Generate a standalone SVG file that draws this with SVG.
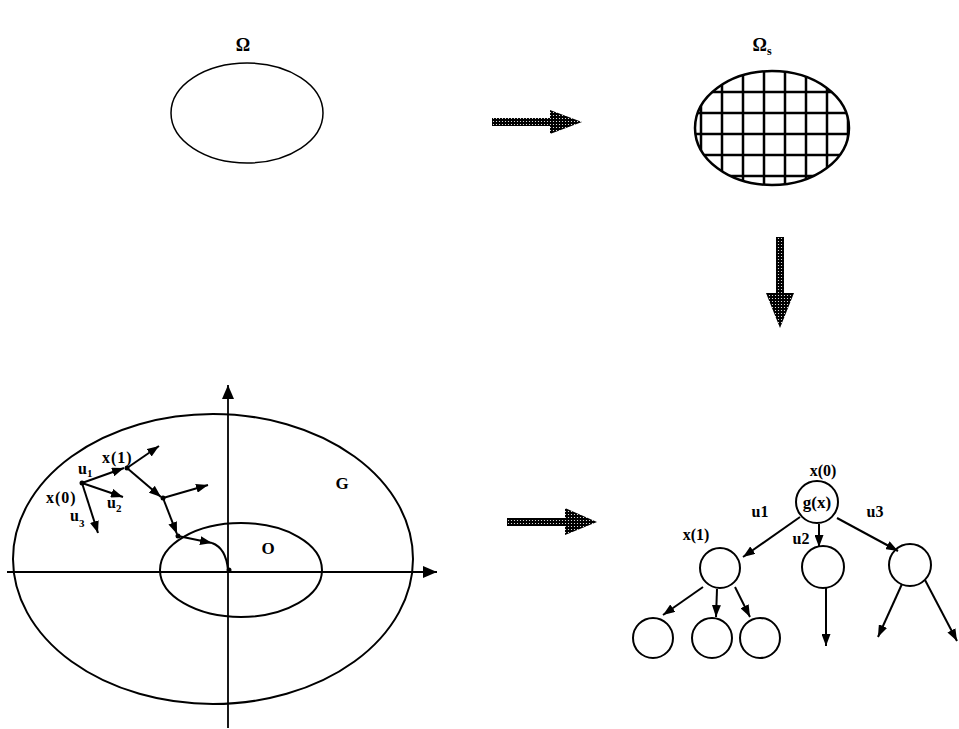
<svg xmlns="http://www.w3.org/2000/svg" width="959" height="729" viewBox="0 0 959 729">
<style>
.t{font-family:"Liberation Serif",serif;font-weight:bold;fill:#000}
.ln{stroke:#000;fill:none;stroke-width:2}
.ax{stroke:#000;fill:none;stroke-width:1.8}
.grid{stroke:#000;stroke-width:2.5}
.big{fill:url(#stip);stroke:none}
</style>
<defs>
<pattern id="stip" width="3" height="3" patternUnits="userSpaceOnUse">
<rect width="3" height="3" fill="#000"/>
<circle cx="1.5" cy="1.5" r="0.6" fill="#fff"/>
</pattern>
<marker id="ah" viewBox="0 0 12 9" refX="12" refY="4.5" markerWidth="12" markerHeight="9" markerUnits="userSpaceOnUse" orient="auto">
<path d="M0,0 L12,4.5 L0,9 Z" fill="#000"/>
</marker>
<marker id="axh" viewBox="0 0 14 12" refX="14" refY="6" markerWidth="14" markerHeight="12" markerUnits="userSpaceOnUse" orient="auto">
<path d="M0,0 L14,6 L0,12 Z" fill="#000"/>
</marker>
<clipPath id="clipE"><ellipse cx="772" cy="128" rx="77" ry="57"/></clipPath>
</defs>

<g id="omega">
<text class="t" x="243" y="51" font-size="18" text-anchor="middle">Ω</text>
<ellipse cx="247" cy="113" rx="76" ry="50" fill="none" stroke="#000" stroke-width="1.5"/>
</g>

<g id="omega-s">
<text class="t" x="762" y="51" font-size="18" text-anchor="middle">Ω<tspan font-size="12" dy="4">s</tspan></text>
<g clip-path="url(#clipE)">
<line class="grid" x1="701" y1="60" x2="701" y2="200"/>
<line class="grid" x1="722" y1="60" x2="722" y2="200"/>
<line class="grid" x1="743" y1="60" x2="743" y2="200"/>
<line class="grid" x1="764" y1="60" x2="764" y2="200"/>
<line class="grid" x1="785" y1="60" x2="785" y2="200"/>
<line class="grid" x1="806" y1="60" x2="806" y2="200"/>
<line class="grid" x1="827" y1="60" x2="827" y2="200"/>
<line class="grid" x1="848" y1="60" x2="848" y2="200"/>
<line class="grid" x1="680" y1="92" x2="860" y2="92"/>
<line class="grid" x1="680" y1="113" x2="860" y2="113"/>
<line class="grid" x1="680" y1="134" x2="860" y2="134"/>
<line class="grid" x1="680" y1="155" x2="860" y2="155"/>
<line class="grid" x1="680" y1="176" x2="860" y2="176"/>
</g>
<ellipse cx="772" cy="128" rx="77" ry="57" fill="none" stroke="#000" stroke-width="2.5"/>
</g>

<g id="big-arrows">
<path class="big" d="M492,118 L550,118 L550,110 L582,122 L550,134 L550,126 L492,126 Z"/>
<path class="big" d="M776,237 L784,237 L784,293 L794,293 L780,328 L766,293 L776,293 Z"/>
<path class="big" d="M507,518 L565,518 L565,508 L597,522 L565,535 L565,526 L507,526 Z"/>
</g>

<g id="state-space">
<ellipse cx="213" cy="559" rx="200" ry="145" class="ln"/>
<ellipse cx="241" cy="570" rx="81" ry="47" class="ln"/>
<line class="ax" x1="228" y1="728" x2="228" y2="385" marker-end="url(#axh)"/>
<line class="ax" x1="7" y1="572" x2="437" y2="572" marker-end="url(#axh)"/>
<text class="t" x="342" y="489" font-size="17" text-anchor="middle">G</text>
<text class="t" x="268" y="554" font-size="17" text-anchor="middle">O</text>
</g>

<g id="trajectory">
<line class="ln" x1="82" y1="483" x2="124" y2="468" marker-end="url(#ah)"/>
<line class="ln" x1="82" y1="483" x2="123" y2="497" marker-end="url(#ah)"/>
<line class="ln" x1="82" y1="483" x2="98" y2="533" marker-end="url(#ah)"/>
<line class="ln" x1="127" y1="468" x2="159" y2="446" marker-end="url(#ah)"/>
<line class="ln" x1="127" y1="468" x2="161" y2="497" marker-end="url(#ah)"/>
<line class="ln" x1="163" y1="498" x2="208" y2="485" marker-end="url(#ah)"/>
<line class="ln" x1="163" y1="498" x2="177" y2="534" marker-end="url(#ah)"/>
<path class="ln" d="M178,536 L212,543" marker-end="url(#ah)"/>
<path class="ln" d="M212,543 Q226,548 228,570"/>
<circle cx="82" cy="483" r="2.5"/>
<circle cx="127" cy="468" r="2.5"/>
<circle cx="163" cy="498" r="2.5"/>
<circle cx="178" cy="536" r="2.5"/>
<circle cx="229" cy="570" r="2.5"/>
<text class="t" x="102" y="463" font-size="16" letter-spacing="1">x(1)</text>
<text class="t" x="78" y="474" font-size="16">u<tspan font-size="11" dy="3">1</tspan></text>
<text class="t" x="46" y="503" font-size="16" letter-spacing="1">x(0)</text>
<text class="t" x="107" y="508" font-size="16">u<tspan font-size="11" dy="4">2</tspan></text>
<text class="t" x="70" y="521" font-size="16">u<tspan font-size="11" dy="6">3</tspan></text>
</g>

<g id="tree-edges">
<line class="ln" x1="800" y1="517" x2="743" y2="557" marker-end="url(#ah)"/>
<line class="ln" x1="819" y1="524" x2="819" y2="547" marker-end="url(#ah)"/>
<line class="ln" x1="837" y1="518" x2="898" y2="551" marker-end="url(#ah)"/>
<line class="ln" x1="703" y1="587" x2="663" y2="615" marker-end="url(#ah)"/>
<line class="ln" x1="717" y1="589" x2="716" y2="617" marker-end="url(#ah)"/>
<line class="ln" x1="735" y1="587" x2="750" y2="617" marker-end="url(#ah)"/>
<line class="ln" x1="826" y1="587" x2="826" y2="646" marker-end="url(#ah)"/>
<line class="ln" x1="902" y1="584" x2="878" y2="637" marker-end="url(#ah)"/>
<line class="ln" x1="925" y1="580" x2="957" y2="641" marker-end="url(#ah)"/>
</g>

<g id="root">
<circle cx="817" cy="502" r="21" class="ln" fill="#fff"/>
<text class="t" x="817" y="508" font-size="17" text-anchor="middle">g(x)</text>
<text class="t" x="823" y="476" font-size="16" text-anchor="middle">x(0)</text>
</g>
<g id="edge-labels">
<text class="t" x="760" y="517" font-size="16" text-anchor="middle">u1</text>
<text class="t" x="801" y="544" font-size="16" text-anchor="middle">u2</text>
<text class="t" x="875" y="517" font-size="16" text-anchor="middle">u3</text>
</g>
<g id="n1">
<circle cx="720" cy="568" r="20" class="ln"/>
<text class="t" x="696" y="540" font-size="16" text-anchor="middle">x(1)</text>
</g>
<g id="n2"><circle cx="823" cy="567" r="21" class="ln"/></g>
<g id="n3"><circle cx="910" cy="565" r="21" class="ln"/></g>
<g id="n4"><circle cx="653" cy="638" r="20" class="ln"/></g>
<g id="n5"><circle cx="712" cy="638" r="20" class="ln"/></g>
<g id="n6"><circle cx="760" cy="638" r="20" class="ln"/></g>
</svg>
